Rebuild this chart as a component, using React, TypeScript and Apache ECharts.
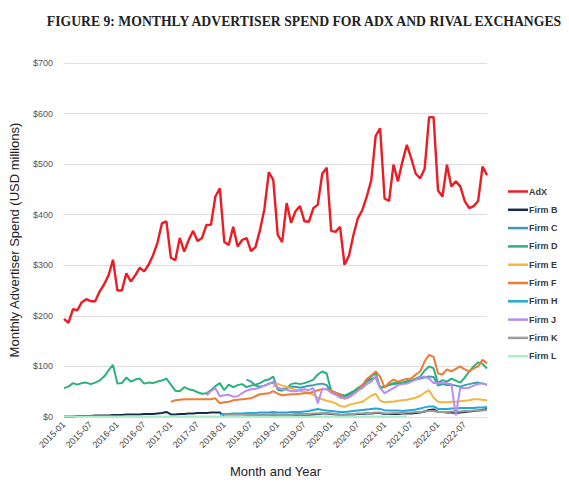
import React, { useEffect, useRef } from "react";
import * as echarts from "echarts";

const months: string[] = [];
for (let y = 2015; y <= 2022; y++) {
  for (let m = 1; m <= 12; m++) months.push(`${y}-${m < 10 ? "0" + m : m}`);
}

const yTicks = [0, 100, 200, 300, 400, 500, 600, 700];

const adx = [
  194, 186, 213, 211, 227, 233, 229, 229, 248, 262, 280, 311,
  250, 250, 284, 268, 280, 295, 288, 301, 320, 345, 383, 387,
  315, 310, 354, 327, 350, 368, 348, 354, 380, 380, 436, 452,
  346, 340, 376, 337, 350, 354, 328, 336, 369, 411, 484, 469,
  360, 346, 423, 384, 407, 417, 387, 386, 413, 420, 481, 493,
  368, 366, 376, 301, 319, 360, 393, 409, 436, 468, 556, 571,
  432, 427, 499, 466, 505, 538, 511, 481, 472, 491, 593, 593,
  448, 436, 499, 456, 466, 456, 427, 413, 417, 427, 495, 478,
];

const firmB = [
  1, 1, 1, 2, 2, 2, 2, 3, 3, 3, 3, 4,
  4, 4, 5, 5, 5, 5, 6, 6, 6, 7, 8, 10,
  5, 5, 6, 6, 7, 7, 8, 8, 8, 9, 9, 9,
  2, 2, 2, 3, 3, 3, 3, 3, 4, 4, 4, 4,
  3, 3, 3, 3, 3, 4, 4, 4, 5, 6, 7, 7,
  6, 5, 4, 4, 5, 5, 6, 6, 7, 7, 8, 8,
  6, 6, 6, 6, 7, 7, 7, 8, 9, 11, 14, 15,
  10, 10, 9, 9, 8, 9, 10, 11, 12, 13, 14, 16,
];

const N = null;

const firmC = [
  N, N, N, N, N, N, N, N, N, N, N, N,
  N, N, N, N, N, N, N, N, N, N, N, N,
  N, N, N, N, N, N, N, N, N, N, N, N,
  N, N, N, N, N, 74, 70, 62, 60, 62, 66, 68,
  58, 55, 57, 60, 60, 58, 60, 62, 63, 65, 66, 63,
  50, 45, 42, 40, 43, 48, 55, 62, 70, 75, 78, 58,
  60, 63, 65, 66, 68, 70, 72, 74, 76, 78, 80, 79,
  62, 65, 63, 64, 62, 60, 63, 65, 67, 68, 66, 64,
];

const firmD = [
  57, 60, 67, 64, 67, 68, 65, 68, 72, 80, 92, 103,
  66, 67, 78, 70, 74, 76, 66, 68, 67, 70, 72, 76,
  64, 52, 51, 59, 55, 53, 49, 46, 47, 53, 61, 67,
  53, 64, 59, 63, 65, 59, 62, 64, 67, 72, 74, 80,
  54, 52, 57, 65, 67, 65, 67, 70, 74, 84, 90, 86,
  52, 48, 45, 42, 46, 51, 57, 63, 72, 80, 86, 58,
  60, 64, 67, 67, 68, 70, 72, 76, 80, 92, 100, 96,
  67, 73, 70, 76, 72, 68, 78, 90, 100, 108, 105, 96,
];

const firmE = [
  N, N, N, N, N, N, N, N, N, N, N, N,
  N, N, N, N, N, N, N, N, N, N, N, N,
  N, N, N, N, N, N, N, N, N, N, N, N,
  N, N, N, N, N, N, N, N, N, N, N, 60,
  66, 62, 60, 56, 54, 52, 50, 48, 44, 38, 35, 32,
  30, 27, 22, 20, 24, 26, 28, 30, 36, 42, 46, 32,
  29, 30, 30, 32, 33, 34, 36, 38, 42, 48, 53, 38,
  30, 29, 29, 30, 30, 31, 32, 33, 35, 35, 34, 33,
];

const firmF = [
  N, N, N, N, N, N, N, N, N, N, N, N,
  N, N, N, N, N, N, N, N, N, N, N, N,
  30, 33, 34, 35, 35, 35, 35, 35, 35, 35, 37, 27,
  29, 30, 33, 34, 35, 36, 37, 41, 45, 46, 47, 51,
  46, 43, 44, 45, 45, 46, 47, 47, 50, 53, 55, 55,
  52, 48, 44, 36, 39, 45, 52, 62, 75, 82, 90, 80,
  58, 68, 74, 70, 73, 75, 76, 84, 90, 110, 123, 119,
  86, 84, 94, 90, 95, 100, 94, 90, 96, 100, 113, 106,
];

const firmH = [
  N, N, N, N, N, N, N, N, N, N, N, N,
  N, N, N, N, N, N, N, N, N, N, N, N,
  N, N, N, N, N, N, N, N, N, N, N, 5,
  6, 6, 7, 7, 7, 8, 8, 8, 9, 9, 9, 10,
  9, 9, 9, 10, 10, 10, 11, 12, 14, 16, 14, 13,
  12, 11, 10, 10, 11, 12, 13, 14, 15, 16, 17, 16,
  13, 13, 13, 13, 12, 13, 14, 15, 17, 19, 21, 21,
  16, 16, 16, 17, 17, 18, 18, 18, 18, 19, 19, 20,
];

const firmJ = [
  N, N, N, N, N, N, N, N, N, N, N, N,
  N, N, N, N, N, N, N, N, N, N, N, N,
  N, N, N, N, N, N, N, N, 43, 51, 57, 41,
  43, 44, 40, 41, 47, 52, 55, 56, 58, 62, 65, 70,
  57, 55, 54, 51, 51, 53, 55, 53, 57, 27, 56, 55,
  48, 44, 38, 37, 40, 45, 52, 57, 65, 70, 80, 57,
  47, 52, 57, 63, 65, 66, 70, 74, 78, 80, 76, 67,
  67, 67, 67, 65, 3, 58, 57, 58, 62, 65, 67, 63,
];

const firmK = [
  N, N, N, N, N, N, N, N, N, N, N, N,
  N, N, N, N, N, N, N, N, N, N, N, N,
  N, N, N, N, N, N, N, N, N, N, N, N,
  4, 4, 4, 4, 4, 5, 5, 5, 5, 5, 5, 6,
  5, 5, 5, 5, 6, 6, 6, 6, 7, 7, 8, 8,
  7, 6, 5, 5, 6, 6, 7, 7, 8, 8, 9, 9,
  7, 7, 8, 8, 8, 9, 9, 10, 10, 11, 12, 12,
  10, 10, 10, 11, 11, 11, 12, 12, 13, 13, 13, 14,
];

const firmL = [
  1, 1, 1, 1, 1, 1, 1, 1, 1, 1, 1, 1,
  1, 1, 1, 1, 1, 1, 1, 1, 1, 1, 1, 1,
  1, 1, 1, 1, 1, 1, 1, 1, 1, 1, 1, 1,
  1, 1, 1, 1, 1, 1, 1, 1, 1, 1, 1, 1,
  1, 1, 1, 1, 1, 1, 1, 1, 1, 1, 1, 1,
  1, 1, 1, 1, 1, 1, 1, 1, 1, 1, 1, 1,
  1, 1, 1, 1, 1, 1, N, N, N, N, N, N,
  N, N, N, N, N, N, N, N, N, N, N, N,
];

const seriesNames = ["AdX", "Firm B", "Firm C", "Firm D", "Firm E", "Firm F", "Firm H", "Firm J", "Firm K", "Firm L"];
const seriesData = [adx, firmB, firmC, firmD, firmE, firmF, firmH, firmJ, firmK, firmL];
const seriesColors = ["#ec1c24", "#1c2a4c", "#3a9faa", "#2bb07c", "#f2b641", "#ee7b36", "#22a8da", "#b98ef0", "#9c9c9c", "#a8efc8"];

export default function App() {
  const ref = useRef<HTMLDivElement>(null);
  useEffect(() => {
    if (!ref.current) return;
    const chart = echarts.init(ref.current, null, { renderer: "svg" });
    chart.setOption({
      animation: false,
      backgroundColor: "#ffffff",
      title: {
        text: "FIGURE 9: MONTHLY ADVERTISER SPEND FOR ADX AND RIVAL EXCHANGES",
        left: 299,
        textAlign: "center",
        top: 9,
        textStyle: {
          fontFamily: "Liberation Serif",
          fontWeight: "bold",
          fontSize: 13.7,
          color: "#222",
        },
      },
      legend: {
        orient: "vertical",
        left: 508,
        top: 186,
        padding: 0,
        itemWidth: 20,
        itemHeight: 10,
        itemGap: 7.3,
        data: seriesNames.map((n, i) => ({
          name: n,
          icon: "path://M0,4 L20,4 L20,6.5 L0,6.5 Z",
          itemStyle: { color: seriesColors[i] },
        })),
        textStyle: {
          fontFamily: "Liberation Sans",
          fontSize: 9,
          fontWeight: "bold",
          color: "#3a3a3a",
          padding: [0, 0, 0, -4],
          lineHeight: 11,
        },
      },
      grid: { left: 60, right: 82, top: 63, bottom: 62 },
      xAxis: {
        type: "category",
        data: months,
        boundaryGap: false,
        name: "Month and Year",
        nameLocation: "middle",
        nameGap: 48,
        nameTextStyle: { fontFamily: "Liberation Sans", fontSize: 13, color: "#222" },
        axisLine: { show: false },
        axisTick: { show: false },
        axisLabel: {
          interval: 5,
          rotate: 45,
          fontFamily: "Liberation Sans",
          fontSize: 9,
          color: "#444",
          margin: 6,
        },
        splitLine: { show: false },
      },
      yAxis: {
        type: "value",
        min: 0,
        max: 700,
        interval: 100,
        name: "Monthly Advertiser Spend (USD millions)",
        nameLocation: "middle",
        nameGap: 43,
        nameRotate: 90,
        nameTextStyle: { fontFamily: "Liberation Sans", fontSize: 13, color: "#222" },
        axisLine: { show: false },
        axisTick: { show: false },
        axisLabel: {
          formatter: (v: number) => (yTicks.includes(v) ? "$" + v : ""),
          fontFamily: "Liberation Sans",
          fontSize: 9,
          color: "#555",
          margin: 11,
        },
        splitLine: { lineStyle: { color: "#dedede", width: 1 } },
      },
      series: seriesNames.map((n, i) => ({
        name: n,
        type: "line",
        data: seriesData[i],
        symbol: "none",
        connectNulls: false,
        lineStyle: { color: seriesColors[i], width: i === 0 ? 2.4 : 2 },
        itemStyle: { color: seriesColors[i] },
        z: i === 0 ? 3 : 2,
      })),
    });
    return () => chart.dispose();
  }, []);
  return <div ref={ref} style={{ width: 569, height: 483, position: "absolute", left: 0, top: 0 }} />;
}
